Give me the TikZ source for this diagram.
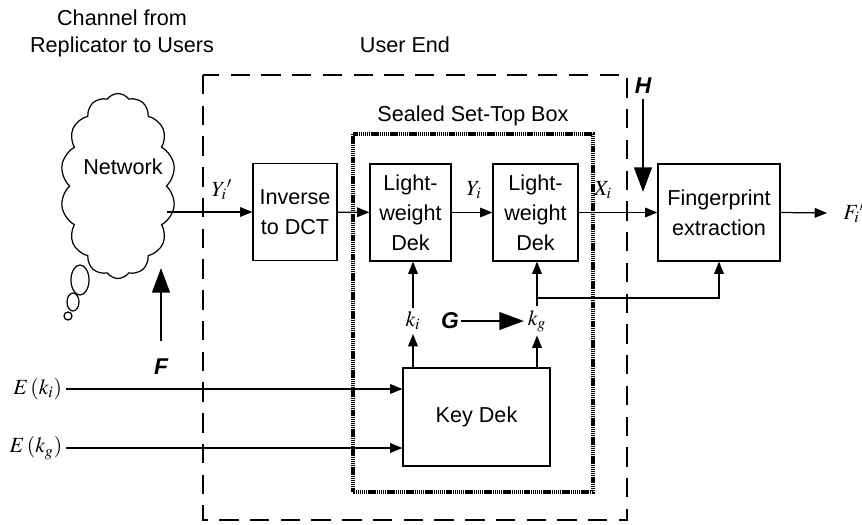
\documentclass[tikz,border=0pt]{standalone}
\usepackage{mathptmx}
\usepackage{fontspec}
\setmainfont{Liberation Sans}
\usetikzlibrary{arrows.meta,positioning,calc,shapes.symbols}

\begin{document}
\begin{tikzpicture}[x=0.02cm, y=-0.02cm,
    % Base styles for the blocks and connectors
    every node/.style={font=\fontsize{12.3}{17}\selectfont},
    block/.style={draw, line width=0.7pt, align=center, inner sep=0pt,
        minimum height=1.94cm},
    tag/.style={inner sep=2pt},
    bold/.style={font=\fontsize{13}{15}\selectfont\bfseries\itshape, inner sep=1pt},
    flow/.style={-{Triangle[length=7pt,width=5.5pt]}, line width=0.7pt},
    bigflow/.style={-{Triangle[length=14pt,width=10pt]}, line width=1.4pt},
    userend/.style={line width=1.6pt, dash pattern=on 11pt off 6.5pt},
    sealed/.style={line width=1.9pt, dash pattern=on 0.8pt off 0.4pt},
    node distance=2mm
]
\useasboundingbox (0,0) rectangle (862,524);

% ==================== CHANNEL: NETWORK ====================
\node[align=center, font=\fontsize{12.3}{15.3}\selectfont] (chan) at (122,33)
    {Channel from\\Replicator to Users};
\node[cloud, draw, line width=0.7pt, cloud puffs=14, cloud puff arc=110,
    aspect=0.62, minimum width=2.3cm, minimum height=3.7cm] (net) at (118,186) {};
\node (netlbl) at (123,167) {Network};
% small bubbles below the cloud
\draw[line width=0.7pt] (80,280) ellipse [x radius=0.18cm, y radius=0.3cm];
\draw[line width=0.7pt] (73,302) ellipse [x radius=0.12cm, y radius=0.18cm];
\draw[line width=0.7pt] (68,316) circle [radius=0.08cm];

% ==================== USER END ====================
\draw[userend] (203,75) rectangle (627,520);
\node (ue) at (405,45) {User End};
\node[block, minimum width=1.68cm] (inv) at (295,212) {Inverse\\to DCT};

% ==================== SEALED SET-TOP BOX ====================
\draw[sealed] (353,134) rectangle (593,492);
\node (stb) at (473,116) {Sealed Set-Top Box};
\node[block, minimum width=1.62cm] (lw1) at (410.5,212.5) {Light-\\weight\\Dek};
\node[block, minimum width=1.70cm] (lw2) at (535.5,212.5) {Light-\\weight\\Dek};
\node[block, minimum width=2.94cm, minimum height=1.96cm] (kdek) at (476.5,417) {Key Dek};
\node[tag] (ki) at (413,321) {$k_i$};
\node[tag] (kg) at (537,321) {$k_g$};

% ==================== FINGERPRINT ====================
\node[block, minimum width=2.44cm] (fp) at (719,212.5) {Fingerprint\\extraction};
\coordinate (fend) at (827,213);
\node[tag, right=2.5mm of fend] (fout) {$F_i{}'$};

% ==================== SIGNAL LABELS ====================
\node[tag] (yp) at (222,190) {$Y_i{}'$};
\node[tag] (yi) at (474,190) {$Y_i$};
\node[tag] (xi) at (603,190) {$X_i$};
\node[tag, anchor=east] (eki) at (66,389) {$E\,(k_i)$};
\node[tag, anchor=east] (ekg) at (66,448) {$E\,(k_g)$};

% attack points
\node[bold] (f) at (161,367) {F};
\node[bold] (g) at (450,321) {G};
\node[bold] (h) at (643,86) {H};
\coordinate (ftip) at (161,268);
\coordinate (htip) at (643,192);
\coordinate (tap) at (537,298);

% ==================== CONNECTIONS ====================
\draw[flow] (net.east |- inv.west) -- (inv.west);
\foreach \a/\b in {inv/lw1, lw1/lw2, lw2/fp}
    \draw[flow] (\a) -- (\b);
\draw[flow] (fp.east) -- (fend);
\draw[flow] (eki.east) -- (kdek.west |- eki.east);
\draw[flow] (ekg.east) -- (kdek.west |- ekg.east);
\draw[flow] (kdek.north -| ki) -- (ki.south);
\draw[flow] (kdek.north -| kg) -- (kg.south);
\draw[flow] (ki.north) -- (ki |- lw1.south);
\draw[flow] (kg.north) -- (kg |- lw2.south);
\draw[flow] (tap) -| (fp.south);

% big arrows
\draw[bigflow, shorten <=9pt] (f.north) -- (ftip);
\draw[bigflow] (g.east) -- (kg.west);
\draw[bigflow, shorten <=2pt] (h.south) -- (htip);

\end{tikzpicture}
\end{document}
